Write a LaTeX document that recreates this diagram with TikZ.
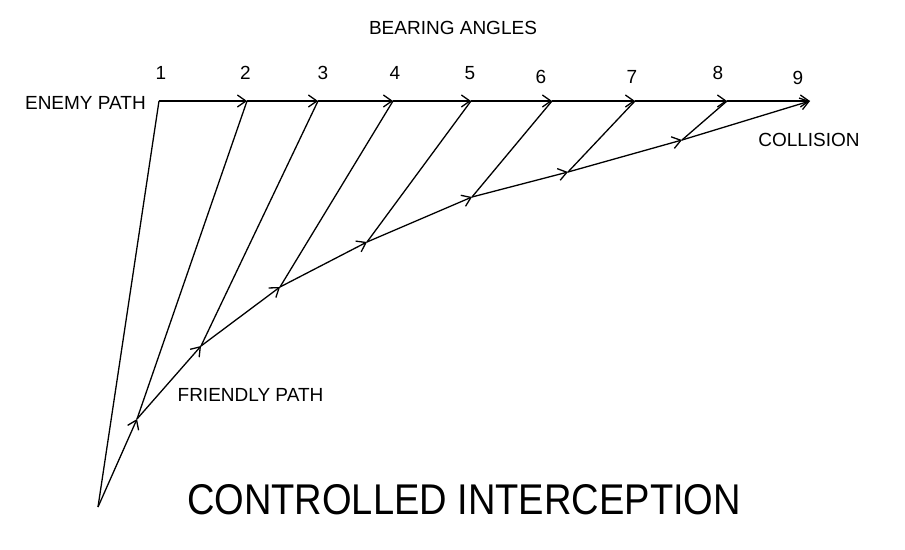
\documentclass[tikz,border=0pt]{standalone}
\usepackage{fontspec}
\setmainfont{Liberation Sans}
\usetikzlibrary{arrows.meta}

\tikzset{
	lbl/.style={inner sep=0pt, font=\fontsize{19}{19}\selectfont},
	title/.style={inner sep=0pt, font=\fontsize{43}{43}\selectfont, xscale=0.885},
	track/.style={line width=1.3pt},
}

\begin{document}
\begin{tikzpicture}[x=1pt, y=-1pt, >={Straight Barb[length=8.5pt,width=12pt,line width=1.3pt]}]

		\useasboundingbox (0, 0) rectangle (905, 549);

		% enemy path
		\coordinate (E1) at (159, 101);
		\coordinate (E2) at (247, 101);
		\coordinate (E3) at (318, 101);
		\coordinate (E4) at (393, 101);
		\coordinate (E5) at (471, 101);
		\coordinate (E6) at (552, 101);
		\coordinate (E7) at (635, 101);
		\coordinate (E8) at (727, 101);
		\coordinate (E9) at (810, 101);

		% friendly path
		\coordinate (F1) at (98, 507);
		\coordinate (F2) at (137, 419);
		\coordinate (F3) at (201, 346);
		\coordinate (F4) at (280, 287);
		\coordinate (F5) at (367, 242);
		\coordinate (F6) at (472, 197);
		\coordinate (F7) at (568, 172);
		\coordinate (F8) at (682, 140);

		\draw[->,track] (E1) -- (E2);
		\draw[->,track] (E2) -- (E3);
		\draw[->,track] (E3) -- (E4);
		\draw[->,track] (E4) -- (E5);
		\draw[->,track] (E5) -- (E6);
		\draw[->,track] (E6) -- (E7);
		\draw[->,track] (E7) -- (E8);
		\draw[->,track] (E8) -- (E9);

		\draw[->,track] (F1) -- (F2);
		\draw[->,track] (F2) -- (F3);
		\draw[->,track] (F3) -- (F4);
		\draw[->,track] (F4) -- (F5);
		\draw[->,track] (F5) -- (F6);
		\draw[->,track] (F6) -- (F7);
		\draw[->,track] (F7) -- (F8);
		\draw[->,track] (F8) -- (E9);

		% bearing lines
		\draw[track] (F1) -- (E1);
		\draw[track] (F2) -- (E2);
		\draw[track] (F3) -- (E3);
		\draw[track] (F4) -- (E4);
		\draw[track] (F5) -- (E5);
		\draw[track] (F6) -- (E6);
		\draw[track] (F7) -- (E7);
		\draw[track] (F8) -- (E8);

		\node[lbl] (n1) at (161, 73) {1};
		\node[lbl] (n2) at (245.5, 73) {2};
		\node[lbl] (n3) at (323, 72.5) {3};
		\node[lbl] (n4) at (395, 73) {4};
		\node[lbl] (n5) at (470, 73.5) {5};
		\node[lbl] (n6) at (541, 77) {6};
		\node[lbl] (n7) at (632, 77) {7};
		\node[lbl] (n8) at (718, 73) {8};
		\node[lbl] (n9) at (798, 78) {9};

		\node[lbl] (bearing) at (453, 27.5) {BEARING ANGLES};
		\node[lbl, anchor=east] (enemy) at (146, 102.5) {ENEMY PATH};
		\node[lbl] (collision) at (809, 139.5) {COLLISION};
		\node[lbl] (friendly) at (250.5, 395) {FRIENDLY PATH};
		\node[title] (caption) at (464, 500) {CONTROLLED INTERCEPTION};

	\end{tikzpicture}
\end{document}
